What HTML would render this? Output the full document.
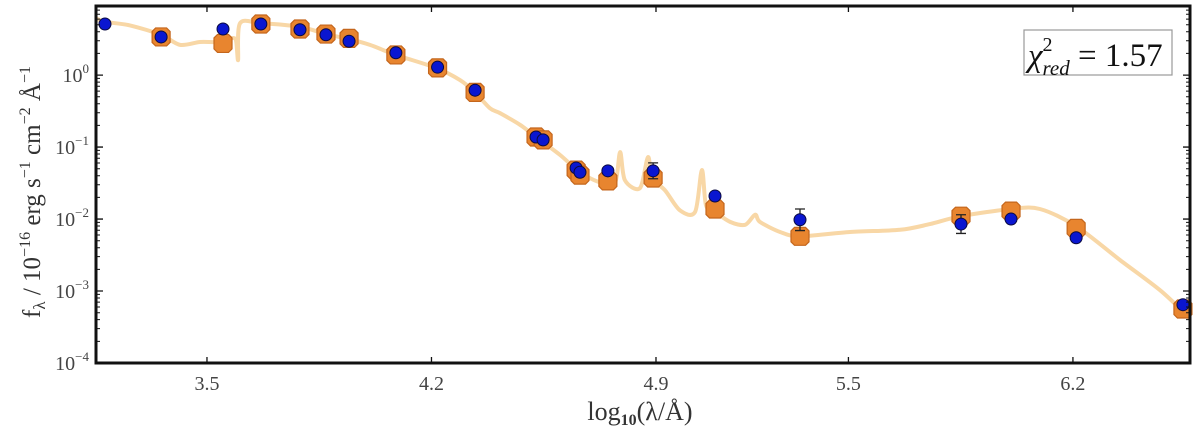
<!DOCTYPE html>
<html><head><meta charset="utf-8"><style>
html,body{margin:0;padding:0;background:#fff;}
svg{display:block;font-family:"Liberation Serif",serif;}
</style></head><body>
<svg id="chart" width="1200" height="435" viewBox="0 0 1200 435" xmlns="http://www.w3.org/2000/svg">
<rect x="0" y="0" width="1200" height="435" fill="#fff"/>
<g id="plot"></g>
<rect x="96" y="6" width="1094" height="357" fill="none" stroke="#111" stroke-width="3"/>
<g id="axes"></g>
<g>
<rect x="1024" y="30" width="148" height="45" fill="#fff" stroke="#999" stroke-width="1.2"/>
<text x="1028" y="66" font-size="33" fill="#111"><tspan font-style="italic">χ</tspan><tspan font-size="20" dy="-15">2</tspan><tspan font-size="21" font-style="italic" dx="-10" dy="24">red</tspan><tspan dy="-9"> = 1.57</tspan></text>
</g>
<text transform="translate(40,192) rotate(-90)" text-anchor="middle" font-size="25" fill="#333">f<tspan font-size="17" dy="5">λ</tspan><tspan dy="-5"> / 10</tspan><tspan font-size="16" dy="-10">−16</tspan><tspan dy="10"> erg s</tspan><tspan font-size="16" dy="-10">−1</tspan><tspan dy="10"> cm</tspan><tspan font-size="16" dy="-10">−2</tspan><tspan dy="10"> Å</tspan><tspan font-size="16" dy="-10">−1</tspan></text>
<text x="640" y="420" text-anchor="middle" font-size="26" fill="#333">log<tspan font-size="16" dy="5" font-weight="bold">10</tspan><tspan dy="-5">(λ/Å)</tspan></text>
</svg>
<script>
// data
const modelLambda=[3.154,3.182,3.260,3.357,3.416,3.478,3.525,3.550,3.572,3.590,3.597,3.603,3.668,3.790,3.871,3.943,4.008,4.089,4.214,4.289,4.336,4.382,4.414,4.476,4.526,4.601,4.663,4.725,4.772,4.788,4.803,4.850,4.875,4.888,4.928,4.975,5.022,5.043,5.056,5.084,5.131,5.178,5.209,5.224,5.287,5.349,5.505,5.661,5.754,5.851,6.007,6.097,6.210,6.347,6.472,6.565];
const modelLogFlux=[0.79,0.74,0.69,0.56,0.42,0.46,0.46,0.49,0.51,0.49,0.21,0.72,0.72,0.67,0.57,0.50,0.42,0.28,0.10,-0.07,-0.24,-0.46,-0.53,-0.69,-0.86,-1.11,-1.35,-1.49,-1.50,-1.07,-1.46,-1.57,-1.14,-1.43,-1.60,-1.88,-1.90,-1.32,-1.81,-1.90,-2.04,-2.08,-1.94,-2.04,-2.18,-2.24,-2.18,-2.15,-2.07,-1.96,-1.86,-1.86,-2.10,-2.57,-2.99,-3.38];
const obsLambda=[3.182,3.357,3.550,3.668,3.790,3.871,3.943,4.089,4.219,4.336,4.526,4.548,4.651,4.663,4.750,4.891,5.084,5.349,5.851,6.007,6.210,6.543];
const obsLogFlux=[0.71,0.53,0.64,0.71,0.63,0.56,0.47,0.31,0.11,-0.21,-0.86,-0.90,-1.29,-1.35,-1.33,-1.33,-1.68,-2.01,-2.07,-2.00,-2.26,-3.19];
const obsErr=[0,0,0,0,0,0,0,0,0,0,0,0,0,0,0,0.11,0,0.15,0.13,0,0,0];
const synLambda=[3.357,3.550,3.668,3.790,3.871,3.943,4.089,4.219,4.336,4.526,4.548,4.651,4.663,4.750,4.891,5.084,5.349,5.851,6.007,6.210,6.543];
const synLogFlux=[0.53,0.44,0.71,0.64,0.57,0.51,0.28,0.10,-0.24,-0.86,-0.90,-1.32,-1.39,-1.47,-1.43,-1.86,-2.24,-1.96,-1.89,-2.13,-3.25];
const xTicks=[3.5,4.2,4.9,5.5,6.2];
const xTickLabels=["3.5","4.2","4.9","5.5","6.2"];
const yTicks=[0,-1,-2,-3,-4];
const yTickLabels=["0","−1","−2","−3","−4"];

const NS="http://www.w3.org/2000/svg";
const X0=96,X1=1190,Y0=6,Y1=363;
const xMin=3.154,xMax=6.565,yMin=-4,yMax=0.96;
function sx(v){return X0+(v-xMin)/(xMax-xMin)*(X1-X0);}
function sy(v){return Y1-(v-yMin)/(yMax-yMin)*(Y1-Y0);}
function mk(t,attrs,parent){const e=document.createElementNS(NS,t);for(const k in attrs)e.setAttribute(k,attrs[k]);parent.appendChild(e);return e;}
const plot=document.getElementById('plot'),axes=document.getElementById('axes');

const P=modelLambda.map((l,i)=>[sx(l),sy(modelLogFlux[i])]);
let d='M'+P[0][0].toFixed(1)+' '+P[0][1].toFixed(1);
const tn=0.15;
for(let i=0;i<P.length-1;i++){
  const p0=P[Math.max(0,i-1)],p1=P[i],p2=P[i+1],p3=P[Math.min(P.length-1,i+2)];
  const c1=[p1[0]+(p2[0]-p0[0])*tn,p1[1]+(p2[1]-p0[1])*tn];
  const c2=[p2[0]-(p3[0]-p1[0])*tn,p2[1]-(p3[1]-p1[1])*tn];
  d+=` C${c1[0].toFixed(1)} ${c1[1].toFixed(1)} ${c2[0].toFixed(1)} ${c2[1].toFixed(1)} ${p2[0].toFixed(1)} ${p2[1].toFixed(1)}`;
}
const ml=mk('path',{d:d,fill:'none',stroke:'#f8d7a6',"stroke-width":4,"stroke-linejoin":'round'},plot);



synLambda.forEach((l,i)=>{
  const cx=sx(l),cy=sy(synLogFlux[i]),r=9,c=3.5;
  const pts=[[cx-r+c,cy-r],[cx+r-c,cy-r],[cx+r,cy-r+c],[cx+r,cy+r-c],[cx+r-c,cy+r],[cx-r+c,cy+r],[cx-r,cy+r-c],[cx-r,cy-r+c]].map(p=>p.join(',')).join(' ');
  const e=mk('polygon',{points:pts,fill:'#e8852f',stroke:'#c4661c',"stroke-width":1.2},plot);
  
  
});
obsLambda.forEach((l,i)=>{
  const cx=sx(l),cy=sy(obsLogFlux[i]);
  if(obsErr[i]>0){
    const ya=sy(obsLogFlux[i]+obsErr[i]),yb=sy(obsLogFlux[i]-obsErr[i]);
    const eb=mk('path',{d:`M${cx} ${ya}V${yb}M${cx-5} ${ya}H${cx+5}M${cx-5} ${yb}H${cx+5}`,stroke:'#222',"stroke-width":1.3,fill:'none'},plot);
    
    
  }
  const e=mk('circle',{cx:cx,cy:cy,r:6,fill:'#0a16d0',stroke:'#0a0a40',"stroke-width":1},plot);
  
  
});

xTicks.forEach((v,i)=>{
  const x=sx(v);
  const t=mk('path',{d:`M${x} ${Y1}v-6M${x} ${Y0}v6`,stroke:'#111',"stroke-width":1.3},axes);
  
  
  const tx=mk('text',{x:x,y:390,"text-anchor":'middle',"font-size":20,fill:'#444'},axes);
  tx.textContent=xTickLabels[i];
  
  
});
yTicks.forEach((v,i)=>{
  const y=sy(v);
  const t=mk('path',{d:`M${X0} ${y}h7M${X1} ${y}h-7`,stroke:'#111',"stroke-width":1.3},axes);
  
  
  const tx=mk('text',{x:89,y:y+7,"text-anchor":'end',"font-size":20,fill:'#444'},axes);
  tx.innerHTML='10<tspan font-size="13" dy="-9">'+yTickLabels[i]+'</tspan>';
  
  
  for(let k=2;k<10;k++){
    const lv=v+Math.log10(k);
    if(lv>yMax)break;
    const yy=sy(lv);
    const m=mk('path',{d:`M${X0} ${yy}h4M${X1} ${yy}h-4`,stroke:'#111',"stroke-width":1},axes);
    
    
  }
});
</script>
</body></html>
